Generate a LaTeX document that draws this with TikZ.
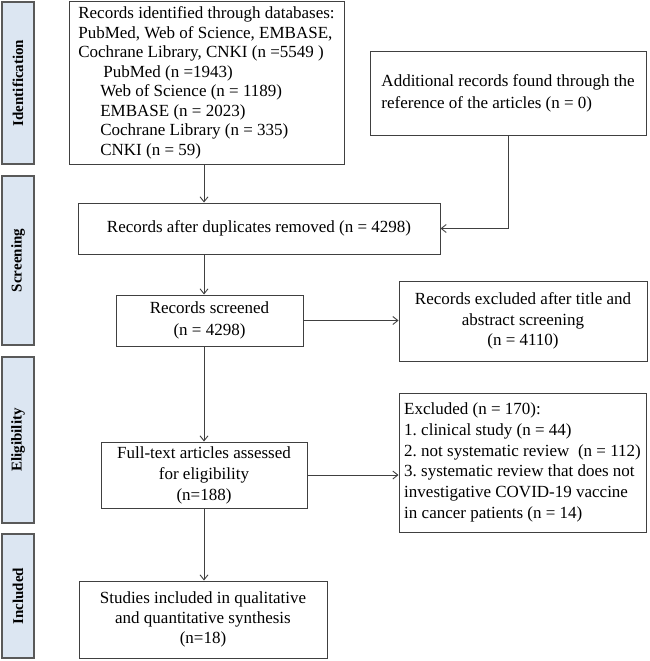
\documentclass[tikz,border=0pt]{standalone}
\usepackage{fontspec}
\setmainfont{Liberation Serif}
\usetikzlibrary{arrows.meta}
\definecolor{stagefill}{HTML}{DCE6F2}
\definecolor{stageline}{HTML}{595959}
\definecolor{lineg}{HTML}{404040}
\frenchspacing
\begin{document}
\begin{tikzpicture}[x=1pt,y=-1pt,
  box/.style={draw=lineg,line width=1pt,inner sep=0pt,align=center,font=\fontsize{17}{20.5}\selectfont},
  stage/.style={draw=stageline,line width=1.3pt,fill=stagefill,rotate=90,inner sep=0pt,minimum height=32pt,font=\fontsize{15}{18}\selectfont\bfseries},
  arr/.style={draw=lineg,line width=0.9pt,-{Straight Barb[length=5pt,width=8pt]}}]
\useasboundingbox (0,0) rectangle (649,661);

\node[stage,minimum width=162pt] (s1) at (18,83) {Identification};
\node[stage,minimum width=169pt] (s2) at (18,260.5) {Screening};
\node[stage,minimum width=166pt] (s3) at (18,440) {Eligibility};
\node[stage,minimum width=124pt] (s4) at (18,596) {Included};

\node[box,align=left,minimum width=275pt,minimum height=162pt,font=\fontsize{17}{19.5}\selectfont] (ident) at (206.5,83)
  {Records identified through databases:\\
   PubMed, Web of Science, EMBASE,\\
   Cochrane Library, CNKI (n =5549 )\\
   \hspace*{25pt}PubMed (n =1943)\\
   \hspace*{22pt}Web of Science (n = 1189)\\
   \hspace*{22pt}EMBASE (n = 2023)\\
   \hspace*{22pt}Cochrane Library (n = 335)\\
   \hspace*{22pt}CNKI (n = 59)};
\node[box,align=left,minimum width=276pt,minimum height=83pt,font=\fontsize{17}{22}\selectfont] (addl) at (508,93.5)
  {Additional records found through the\\reference of the articles (n = 0)};
\node[box,minimum width=362pt,minimum height=51pt] (dup) at (259,228.5)
  {Records after duplicates removed (n = 4298)};
\node[box,minimum width=187pt,minimum height=51pt,font=\fontsize{17}{22}\selectfont] (screened) at (209.5,320.5)
  {Records screened\\(n = 4298)};
\node[box,minimum width=248pt,minimum height=80pt] (excl1) at (523,321)
  {Records excluded after title and\\abstract screening\\(n = 4110)};
\node[box,minimum width=206pt,minimum height=66pt,font=\fontsize{17}{21}\selectfont] (fulltext) at (204,475)
  {Full-text articles assessed\\for eligibility\\(n=188)};
\node[box,align=left,minimum width=247pt,minimum height=139pt,font=\fontsize{17}{20.8}\selectfont] (excl2) at (522.5,462.5)
  {Excluded (n = 170):\\
   1. clinical study (n = 44)\\
   2. not systematic review~ (n = 112)\\
   3. systematic review that does not\\
   investigative COVID-19 vaccine\\
   in cancer patients (n = 14)};
\node[box,minimum width=248pt,minimum height=77pt,font=\fontsize{17}{20}\selectfont] (studies) at (203,619.5)
  {Studies included in qualitative\\and quantitative synthesis\\(n=18)};

\coordinate (col) at (204,0);
\draw[arr] (ident.south -| col) -- (dup.north -| col);
\draw[arr] (addl.south) |- (dup.east);
\draw[arr] (dup.south -| col) -- (screened.north -| col);
\draw[arr] (screened.east) -- (screened.east -| excl1.west);
\draw[arr] (screened.south -| col) -- (fulltext.north -| col);
\draw[arr] (fulltext.east) -- (fulltext.east -| excl2.west);
\draw[arr] (fulltext.south -| col) -- (studies.north -| col);
\end{tikzpicture}
\end{document}
